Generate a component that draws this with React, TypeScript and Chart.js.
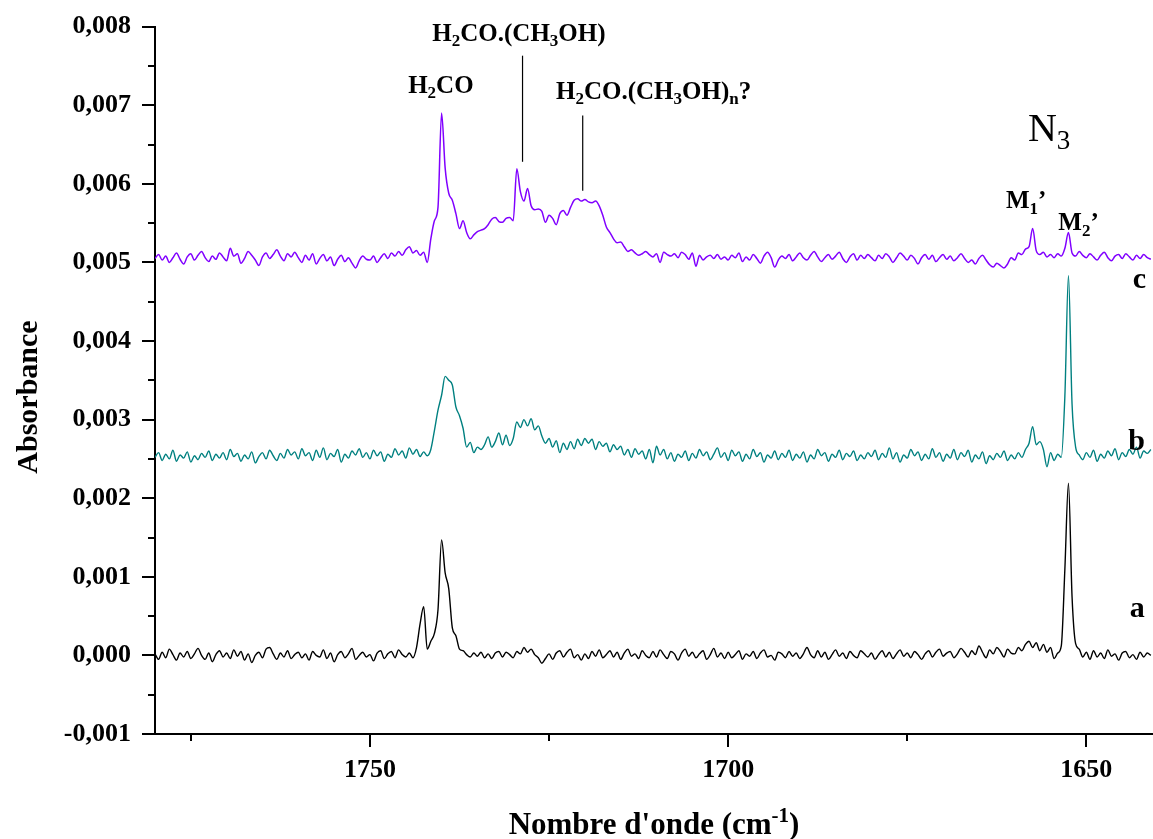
import React, { useEffect, useRef } from 'react';
import { Chart, registerables } from 'chart.js';

Chart.register(...registerables);

// Wavenumber grid (cm-1): first sample and spacing
const WN_START = 1780;
const WN_STEP = 0.5;

const X_MIN = 1640.7;
const X_MAX = 1780;
const Y_MIN = -0.001;
const Y_MAX = 0.008;

const X_MAJOR_TICKS = [1750, 1700, 1650];
const X_MINOR_TICKS = [1775, 1725, 1675];
const Y_MAJOR_TICKS = [-0.001, 0, 0.001, 0.002, 0.003, 0.004, 0.005, 0.006, 0.007, 0.008];
const Y_MINOR_TICKS = [-0.0005, 0.0005, 0.0015, 0.0025, 0.0035, 0.0045, 0.0055, 0.0065, 0.0075];

// Absorbance values in units of 1e-5, one sample every 0.5 cm-1 from 1780 down to 1641
const SERIES_C = [
  505, 510, 503, 508, 500, 506, 512, 504, 498, 507, 511, 503, 509, 514, 506, 501, 508, 504, 512, 507,
  502, 518, 508, 511, 499, 505, 514, 509, 503, 496, 507, 512, 505, 510, 516, 508, 502, 511, 507, 513,
  506, 500, 509, 503, 511, 498, 505, 510, 502, 507, 496, 504, 509, 501, 506, 499, 493, 502, 508, 504,
  503, 508, 500, 506, 511, 505, 512, 508, 514, 509, 516, 520, 512, 515, 509, 513, 500, 530, 553, 570,
  690, 620, 588, 579, 562, 543, 553, 538, 530, 535, 539, 541, 543, 548, 555, 557, 552, 551, 556, 557,
  553, 619, 590, 578, 594, 572, 567, 568, 565, 551, 560, 556, 548, 562, 566, 560, 570, 579, 581, 578,
  580, 577, 576, 578, 572, 560, 545, 538, 530, 525, 526, 520, 514, 516, 512, 509, 511, 514, 510, 507,
  511, 500, 513, 510, 508, 511, 506, 513, 510, 504, 512, 495, 509, 503, 507, 509, 505, 510, 504, 507,
  503, 509, 506, 512, 501, 507, 503, 510, 505, 499, 508, 513, 506, 494, 503, 508, 505, 510, 502, 507,
  512, 506, 503, 509, 514, 507, 501, 506, 510, 504, 508, 513, 505, 500, 507, 511, 503, 509, 505, 510,
  506, 502, 509, 505, 511, 507, 500, 506, 512, 508, 503, 509, 505, 498, 506, 510, 504, 509, 501, 506,
  510, 504, 508, 502, 506, 511, 505, 500, 503, 498, 505, 509, 503, 497, 494, 499, 496, 493, 498, 506,
  503, 512, 510, 517, 520, 543, 515, 510, 513, 507, 510, 506, 511, 508, 518, 538, 512, 508, 514, 509,
  506, 511, 507, 503, 509, 513, 506, 502, 508, 510, 505, 511, 507, 503, 509, 505, 510, 506, 504,
];

const SERIES_B = [
  252, 258, 248, 256, 250, 261, 247, 255, 251, 259, 246, 254, 249, 257, 252, 260, 248, 256, 251, 258,
  249, 262, 253, 257, 247, 255, 250, 259, 245, 253, 258, 250, 261, 254, 248, 257, 251, 262, 255, 259,
  250, 263, 254, 258, 248, 261, 252, 264, 249, 257, 253, 262, 246, 256, 251, 260, 255, 263, 252, 258,
  250, 261, 254, 259, 247, 256, 252, 263, 255, 260, 251, 264, 256, 262, 253, 259, 254, 262, 286, 312,
  331, 355, 350, 344, 316, 305, 289, 265, 271, 258, 265, 262, 268, 278, 265, 272, 283, 268, 280, 267,
  276, 297, 290, 300, 292, 301, 287, 292, 279, 270, 276, 265, 273, 258, 270, 262, 272, 263, 275, 267,
  276, 270, 275, 262, 272, 266, 270, 259, 268, 262, 266, 255, 262, 252, 263, 256, 260, 250, 262, 245,
  266, 255, 262, 250, 258, 247, 256, 252, 260, 248, 257, 251, 262, 254, 259, 249, 256, 264, 252, 258,
  248, 261, 254, 259, 247, 256, 250, 262, 253, 258, 246, 255, 251, 260, 249, 257, 252, 261, 248, 256,
  251, 259, 246, 255, 250, 262, 254, 258, 247, 256, 252, 261, 249, 257, 253, 260, 248, 255, 250, 258,
  253, 261, 249, 257, 252, 264, 250, 258, 246, 255, 251, 262, 254, 259, 248, 256, 250, 263, 252, 258,
  247, 256, 251, 262, 249, 258, 253, 261, 246, 255, 250, 259, 244, 254, 249, 257, 252, 260, 248, 255,
  250, 258, 252, 262, 270, 291, 268, 272, 262, 240, 258, 248, 256, 252, 330, 483, 320, 265, 255, 249,
  258, 252, 261, 247, 256, 251, 260, 254, 263, 249, 258, 253, 262, 256, 265, 251, 260, 257, 262,
];

const SERIES_A = [
  2, -5, 4, -3, 8, 1, -6, 3, -2, 5, -4, 2, 9, 0, -5, 3, -8, 1, 6, -2,
  3, -4, 7, -1, 5, -6, 2, -9, 0, 4, -3, 8, 10, 2, -5, 3, -2, 6, -4, 1,
  4, -3, 2, -6, 5, 0, -2, 7, -4, 3, -8, 1, 5, -3, 2, 9, -5, 0, 4, -2,
  1, -7, 3, 6, -4, 2, 5, -3, 7, 1, -2, 3, -3, 10, 40, 62, 8, 18, 28, 58,
  147, 105, 85, 35, 25, 8, 6, 1, -2, 3, -1, 4, -3, 2, -4, 3, 5, -2, 4, 1,
  -3, 5, 2, 10, 4, 8, 1, -3, -10, -4, 2, -5, 3, 6, -2, 4, 8, -3, 1, -6,
  2, -4, 5, -1, 7, -3, 1, 6, -2, 4, -5, 3, 8, -1, 2, -4, 6, 0, -3, 5,
  -2, 7, 1, -4, 5, 2, -6, 3, 8, -1, 4, -3, 2, 6, -5, 1, 9, -2, 3, -4,
  4, -3, 1, 6, -5, 2, -1, 5, -4, 3, 7, -2, 0, -6, 4, 2, -3, 5, -1, 3,
  -4, 2, 10, 1, -3, 6, -2, 4, -5, 1, 7, -1, 3, -4, 5, 0, -3, 6, 2, -2,
  3, -5, 1, 6, -2, 4, -4, 2, 7, -1, 3, -3, 5, 1, -5, 2, 6, -2, 4, 8,
  -1, 3, 5, -3, 2, 9, 4, -2, 6, 1, 12, 4, -3, 7, 2, 10, 5, -2, 8, 3,
  2, 10, 6, 14, 18, 10, 16, 6, 14, 4, 10, -4, 3, 12, 110, 219, 75, 15, 8, -2,
  4, -5, 6, -2, 3, -4, 7, -1, 2, -6, 3, 5, -3, 1, -5, 4, -2, 3, 0,
];

const SERIES_COLORS = { a: '#000000', b: '#008080', c: '#8000ff' };

const FONT = '"Liberation Serif", "Times New Roman", serif';

type Part = { t: string; sub?: boolean; sup?: boolean };

// Text labels anchored in data coordinates (wavenumber, absorbance)
const LABELS: { parts: Part[]; wn: number; abs: number; size: number; bold: boolean }[] = [
  { parts: [{ t: 'H' }, { t: '2', sub: true }, { t: 'CO' }], wn: 1740.1, abs: 0.00716, size: 25, bold: true },
  { parts: [{ t: 'H' }, { t: '2', sub: true }, { t: 'CO.(CH' }, { t: '3', sub: true }, { t: 'OH)' }], wn: 1729.2, abs: 0.00782, size: 25, bold: true },
  { parts: [{ t: 'H' }, { t: '2', sub: true }, { t: 'CO.(CH' }, { t: '3', sub: true }, { t: 'OH)' }, { t: 'n', sub: true }, { t: '?' }], wn: 1710.4, abs: 0.00708, size: 25, bold: true },
  { parts: [{ t: 'N' }, { t: '3', sub: true }], wn: 1655.2, abs: 0.00655, size: 40, bold: false },
  { parts: [{ t: 'M' }, { t: '1', sub: true }, { t: '\u2019' }], wn: 1658.4, abs: 0.00569, size: 25, bold: true },
  { parts: [{ t: 'M' }, { t: '2', sub: true }, { t: '\u2019' }], wn: 1651.1, abs: 0.00541, size: 25, bold: true },
  { parts: [{ t: 'c' }], wn: 1642.6, abs: 0.00468, size: 30, bold: true },
  { parts: [{ t: 'b' }], wn: 1643.0, abs: 0.00261, size: 30, bold: true },
  { parts: [{ t: 'a' }], wn: 1642.9, abs: 0.00049, size: 30, bold: true },
];

const LEADER_LINES = [
  { wn: 1728.7, from: 0.00763, to: 0.00628 },
  { wn: 1720.3, from: 0.00687, to: 0.00591 },
];

function toPoints(values: number[]) {
  return values.map((v, i) => ({ x: WN_START - i * WN_STEP, y: v / 1e5 }));
}

function drawRich(ctx: CanvasRenderingContext2D, parts: Part[], cx: number, baseline: number, size: number, bold: boolean) {
  const w = bold ? 'bold ' : '';
  const subSize = Math.round(size * 0.68);
  const widths = parts.map((p) => {
    ctx.font = `${w}${p.sub || p.sup ? subSize : size}px ${FONT}`;
    return ctx.measureText(p.t).width;
  });
  const total = widths.reduce((s, v) => s + v, 0);
  let x = cx - total / 2;
  ctx.textAlign = 'left';
  ctx.textBaseline = 'alphabetic';
  parts.forEach((p, i) => {
    ctx.font = `${w}${p.sub || p.sup ? subSize : size}px ${FONT}`;
    const dy = p.sub ? size * 0.22 : p.sup ? -size * 0.4 : 0;
    ctx.fillText(p.t, x, baseline + dy);
    x += widths[i];
  });
}

const decorations = {
  id: 'decorations',
  afterDraw(chart: any) {
    const ctx: CanvasRenderingContext2D = chart.ctx;
    const xs = chart.scales.x;
    const ys = chart.scales.y;
    const area = chart.chartArea;
    ctx.save();
    ctx.strokeStyle = '#000';
    ctx.fillStyle = '#000';
    ctx.lineWidth = 2;
    Y_MINOR_TICKS.forEach((v) => {
      const y = Math.round(ys.getPixelForValue(v));
      ctx.beginPath();
      ctx.moveTo(area.left - 7, y);
      ctx.lineTo(area.left, y);
      ctx.stroke();
    });
    X_MINOR_TICKS.forEach((v) => {
      const x = Math.round(xs.getPixelForValue(v));
      ctx.beginPath();
      ctx.moveTo(x, area.bottom);
      ctx.lineTo(x, area.bottom + 7);
      ctx.stroke();
    });
    ctx.lineWidth = 1.2;
    LEADER_LINES.forEach((l) => {
      const x = xs.getPixelForValue(l.wn);
      ctx.beginPath();
      ctx.moveTo(x, ys.getPixelForValue(l.from));
      ctx.lineTo(x, ys.getPixelForValue(l.to));
      ctx.stroke();
    });
    LABELS.forEach((lb) => {
      drawRich(ctx, lb.parts, xs.getPixelForValue(lb.wn), ys.getPixelForValue(lb.abs), lb.size, lb.bold);
    });
    drawRich(
      ctx,
      [{ t: "Nombre d'onde (cm" }, { t: '-1', sup: true }, { t: ')' }],
      (area.left + area.right) / 2,
      834,
      31,
      true
    );
    ctx.save();
    ctx.translate(37, 397);
    ctx.rotate(-Math.PI / 2);
    drawRich(ctx, [{ t: 'Absorbance' }], 0, 0, 30, true);
    ctx.restore();
    ctx.restore();
  },
};

export default function App() {
  const canvasRef = useRef<HTMLCanvasElement | null>(null);

  useEffect(() => {
    if (!canvasRef.current) return;
    const chart = new Chart(canvasRef.current, {
      type: 'line',
      data: {
        datasets: [
          { label: 'a', data: toPoints(SERIES_A), borderColor: SERIES_COLORS.a, borderWidth: 1.4 },
          { label: 'b', data: toPoints(SERIES_B), borderColor: SERIES_COLORS.b, borderWidth: 1.4 },
          { label: 'c', data: toPoints(SERIES_C), borderColor: SERIES_COLORS.c, borderWidth: 1.5 },
        ],
      },
      options: {
        animation: false,
        responsive: false,
        events: [],
        layout: { padding: { top: 26, right: 0, left: 0, bottom: 0 } },
        elements: { point: { radius: 0 }, line: { cubicInterpolationMode: 'monotone', fill: false } },
        plugins: { legend: { display: false }, tooltip: { enabled: false } },
        scales: {
          x: {
            type: 'linear',
            min: X_MIN,
            max: X_MAX,
            reverse: true,
            afterBuildTicks: (scale: any) => {
              scale.ticks = X_MAJOR_TICKS.map((v) => ({ value: v }));
            },
            afterFit: (scale: any) => {
              scale.height = 105;
            },
            ticks: {
              color: '#000',
              font: { family: FONT, size: 26, weight: 'bold' },
              padding: 8,
              maxRotation: 0,
              callback: (v: any) => String(v),
            },
            grid: { drawOnChartArea: false, drawTicks: true, tickLength: 13, color: '#000', lineWidth: 2 },
            border: { display: true, color: '#000', width: 2 },
          },
          y: {
            type: 'linear',
            min: Y_MIN,
            max: Y_MAX,
            afterBuildTicks: (scale: any) => {
              scale.ticks = Y_MAJOR_TICKS.map((v) => ({ value: v }));
            },
            afterFit: (scale: any) => {
              scale.width = 155;
            },
            ticks: {
              color: '#000',
              font: { family: FONT, size: 26, weight: 'bold' },
              padding: 11,
              callback: (v: any) => Number(v).toFixed(3).replace('.', ','),
            },
            grid: { drawOnChartArea: false, drawTicks: true, tickLength: 13, color: '#000', lineWidth: 2 },
            border: { display: true, color: '#000', width: 2 },
          },
        },
      },
      plugins: [decorations],
    });
    return () => chart.destroy();
  }, []);

  return (
    <div style={{ position: 'absolute', left: 0, top: 0, width: 1153, height: 839, background: '#fff' }}>
      <canvas ref={canvasRef} width={1153} height={839} style={{ display: 'block' }} />
    </div>
  );
}
